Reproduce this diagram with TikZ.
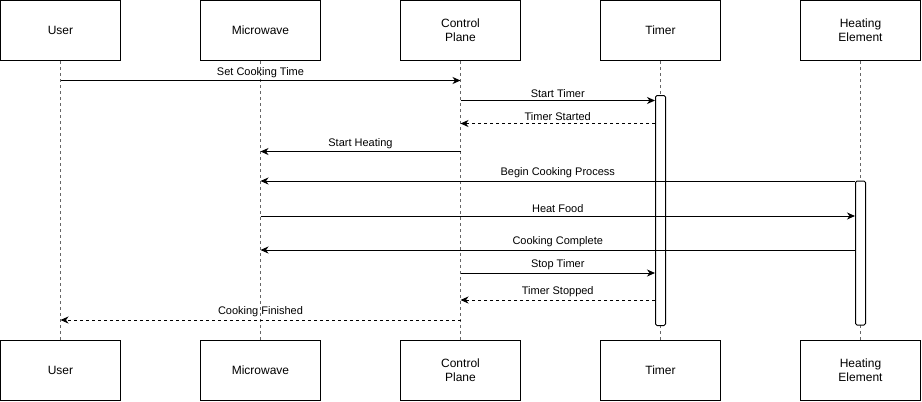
\documentclass[tikz,border=0pt]{standalone}
\usepackage{fontspec}
\setmainfont{Liberation Sans}
\usetikzlibrary{arrows.meta}
\begin{document}
\begin{tikzpicture}[x=1pt,y=-1pt,
  actor/.style={draw,line width=1pt,fill=white,minimum width=120pt,minimum height=60pt,inner sep=0pt,align=center,font=\fontsize{12}{14}\selectfont},
  bar/.style={draw,line width=1pt,fill=white,minimum width=10pt,inner sep=0pt,rounded corners=1.5pt},
  life/.style={draw=black!60,line width=1pt,dash pattern=on 3pt off 3pt},
  msg/.style={line width=1pt,-{Stealth[length=8pt,width=7pt,inset=2.5pt]}},
  ret/.style={msg,dash pattern=on 3pt off 3pt},
  lab/.style={font=\fontsize{11}{13}\selectfont,inner sep=0pt}]
\useasboundingbox (0,0) rectangle (922,402);
% top actors
\node[actor] (ut) at (60.5,30.5) {User};
\node[actor] (mt) at (260.5,30.5) {Microwave};
\node[actor] (ct) at (460.5,30.5) {Control\\Plane};
\node[actor] (tt) at (660.5,30.5) {Timer};
\node[actor] (ht) at (860.5,30.5) {Heating\\Element};
% bottom actors
\node[actor] (ub) at (60.5,370.5) {User};
\node[actor] (mb) at (260.5,370.5) {Microwave};
\node[actor] (cb) at (460.5,370.5) {Control\\Plane};
\node[actor] (tb) at (660.5,370.5) {Timer};
\node[actor] (hb) at (860.5,370.5) {Heating\\Element};
% lifelines
\draw[life] (ut.south) -- (ub.north);
\draw[life] (mt.south) -- (mb.north);
\draw[life] (ct.south) -- (cb.north);
\draw[life] (tt.south) -- (tb.north);
\draw[life] (ht.south) -- (hb.north);
% activation bars
\node[bar,minimum height=230pt] (tbar) at (660.5,210.5) {};
\node[bar,minimum height=144pt] (hbar) at (860.5,253) {};
% messages
\draw[msg] (ut.south |- 0,80.5) -- node[lab,above=2.5pt] {Set Cooking Time} (ct.south |- 0,80.5);
\draw[msg] (ct.south |- 0,100.5) -- node[lab,above=2.5pt] {Start Timer} (tbar.west |- 0,100.5);
\draw[ret] (tbar.west |- 0,123.5) -- node[lab,above=2.5pt] {Timer Started} (ct.south |- 0,123.5);
\draw[msg] (ct.south |- 0,151.5) -- node[lab,above=2.5pt] {Start Heating} (mt.south |- 0,151.5);
\draw[msg] (hbar.west |- 0,181) -- node[lab,above=2.5pt] {Begin Cooking Process} (mt.south |- 0,181);
\draw[msg] (mt.south |- 0,216) -- node[lab,above=2.5pt] {Heat Food} (hbar.west |- 0,216);
\draw[msg] (hbar.west |- 0,250) -- node[lab,above=2.5pt] {Cooking Complete} (mt.south |- 0,250);
\draw[msg] (ct.south |- 0,273) -- node[lab,above=2.5pt] {Stop Timer} (tbar.west |- 0,273);
\draw[ret] (tbar.west |- 0,300) -- node[lab,above=2.5pt] {Timer Stopped} (ct.south |- 0,300);
\draw[ret] (ct.south |- 0,320) -- node[lab,above=2.5pt] {Cooking Finished} (ut.south |- 0,320);
\end{tikzpicture}
\end{document}
